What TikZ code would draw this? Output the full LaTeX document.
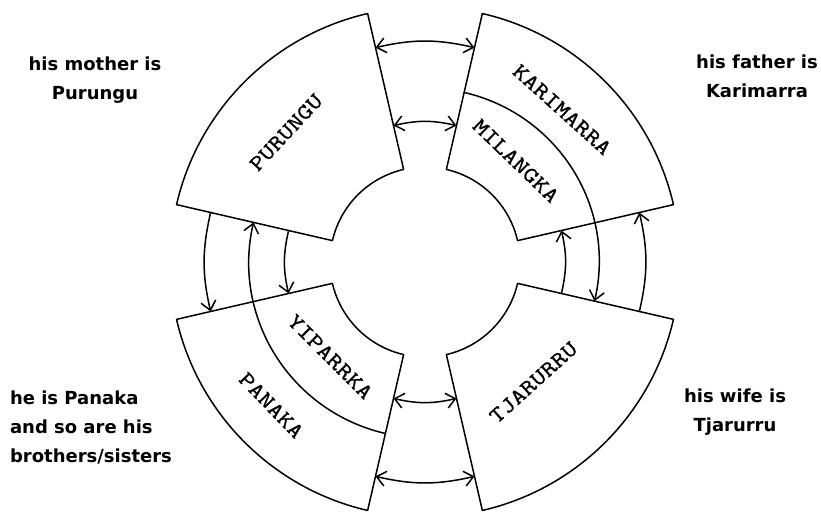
\documentclass[tikz,border=0pt]{standalone}
\usepackage{fontspec}
\setsansfont{DejaVu Sans}
\newfontfamily\clanfont{Latin Modern Mono}[FakeStretch=1.22, FakeBold=1]
\usetikzlibrary{arrows.meta}

\begin{document}
\begin{tikzpicture}[x=1pt, y=1pt, line width=1.5pt, line cap=round, line join=round,
		>={Straight Barb[length=9pt,width=15pt]},
		clan/.style={font=\fontsize{22}{22}\selectfont\clanfont, inner sep=0pt},
		kin/.style={font=\fontsize{18}{29}\selectfont\sffamily\bfseries, align=center}]
			\useasboundingbox[fill=white] (-425,-251) rectangle (396,262);
			% sectors
			\foreach \a [evaluate=\a as \lo using \a-32, evaluate=\a as \hi using \a+32] in {45,135,225,315}
				\draw (\lo:95) arc[start angle=\lo, end angle=\hi, radius=95] -- (\hi:255)
					arc[start angle=\hi, end angle=\lo, radius=255] -- cycle;
			% points on the edges
			\coordinate (kar-top-out) at (77:220);
			\coordinate (kar-top-in) at (77:140);
			\coordinate (kar-div) at (77:174);
			\coordinate (pur-top-out) at (103:220);
			\coordinate (pur-top-in) at (103:140);
			\coordinate (pur-left-out) at (167:220);
			\coordinate (pur-left-mid) at (167:176);
			\coordinate (pur-left-in) at (167:140);
			\coordinate (pan-top-out) at (193:220);
			\coordinate (yip-top) at (193:140);
			\coordinate (pan-div) at (257:176);
			\coordinate (pan-bot) at (257:220);
			\coordinate (yip-bot) at (257:140);
			\coordinate (tja-bot-out) at (283:220);
			\coordinate (tja-bot-in) at (283:140);
			\coordinate (tja-right-out) at (-13:220);
			\coordinate (tja-right-mid) at (-13:174);
			\coordinate (tja-right-in) at (-13:140);
			\coordinate (kar-right-out) at (13:220);
			\coordinate (mil-right) at (13:140);
			% arrows
			\draw [<->] (kar-top-out) to[bend right=13] (pur-top-out);
			\draw [<->] (kar-top-in) to[bend right=13] (pur-top-in);
			\draw [->] (pur-left-out) to[bend right=13] (pan-top-out);
			\draw [->] (pur-left-in) to[bend right=13] (yip-top);
			\draw [->] (pan-div) to[bend left=45] (pur-left-mid);
			\draw [<->] (yip-bot) to[bend right=13] (tja-bot-in);
			\draw [<->] (pan-bot) to[bend right=13] (tja-bot-out);
			\draw [->] (tja-right-in) to[bend right=13] (mil-right);
			\draw [->] (tja-right-out) to[bend right=13] (kar-right-out);
			\draw [->] (kar-div) to[bend left=45] (tja-right-mid);
			% sections
			\node[clan, rotate=47] (purungu) at (137:190) {PURUNGU};
			\node[clan, rotate=-42] (karimarra) at (48:205) {KARIMARRA};
			\node[clan, rotate=-44] (milangka) at (48:136) {MILANGKA};
			\node[clan, rotate=-45] (yiparrka) at (225:134) {YIPARRKA};
			\node[clan, rotate=-46] (panaka) at (223:210) {PANAKA};
			\node[clan, rotate=42] (tjarurru) at (-48:162) {TJARURRU};
			% relations
			\node[kin] (mother) at (-330,182) {his mother is\\Purungu};
			\node[kin] (father) at (332,186) {his father is\\Karimarra};
			\node[kin, align=left] (self) at (-334,-165) {he is Panaka\\and so are his\\brothers/sisters};
			\node[kin] (wife) at (310,-150) {his wife is\\Tjarurru};
		\end{tikzpicture}
\end{document}
